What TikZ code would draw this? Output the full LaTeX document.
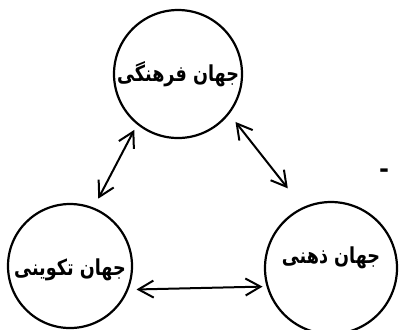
\documentclass[tikz,border=0pt]{standalone}
\usepackage{fontspec}
\newfontfamily\arabicfont[Script=Arabic]{DejaVu Sans}
\TeXXeTstate=1
\usetikzlibrary{arrows.meta}
\newcommand{\narrow}[1]{\scalebox{0.8}[1]{#1}}

\begin{document}
\begin{tikzpicture}[x=0.5pt, y=-0.5pt,
  world/.style={circle, draw, line width=1.1pt, minimum size=64pt, inner sep=0pt},
  worldname/.style={font=\arabicfont\bfseries\fontsize{11}{13}\selectfont},
  link/.style={{Straight Barb[length=7.5pt,width=8.5pt]}-{Straight Barb[length=7.5pt,width=8.5pt]}, line width=1pt}]
\useasboundingbox (0,0) rectangle (399,329);
% worlds
\node[world, label={[worldname]center:\narrow{\beginR جهان فرهنگی\endR}}] (culture) at (178,74) {};
\node[world, minimum size=62pt, label={[worldname, yshift=-2pt]center:\narrow{\beginR جهان تکوینی\endR}}] (nature) at (70,266) {};
\node[world, minimum size=66pt, label={[worldname, yshift=5pt]center:\narrow{\beginR جهان ذهنی\endR}}] (mind) at (331,268) {};
\node[font=\arabicfont\bfseries\large] (dash) at (384,173) {-};

% links
\draw[link, shorten <=3pt, shorten >=5pt] (culture.231) -- (nature.68);
\draw[link, shorten <=5pt, shorten >=12pt] (culture.322) -- (mind.115);
\draw[link, shorten <=4pt, shorten >=2pt] (nature.338) -- (mind.196);
\end{tikzpicture}
\end{document}
